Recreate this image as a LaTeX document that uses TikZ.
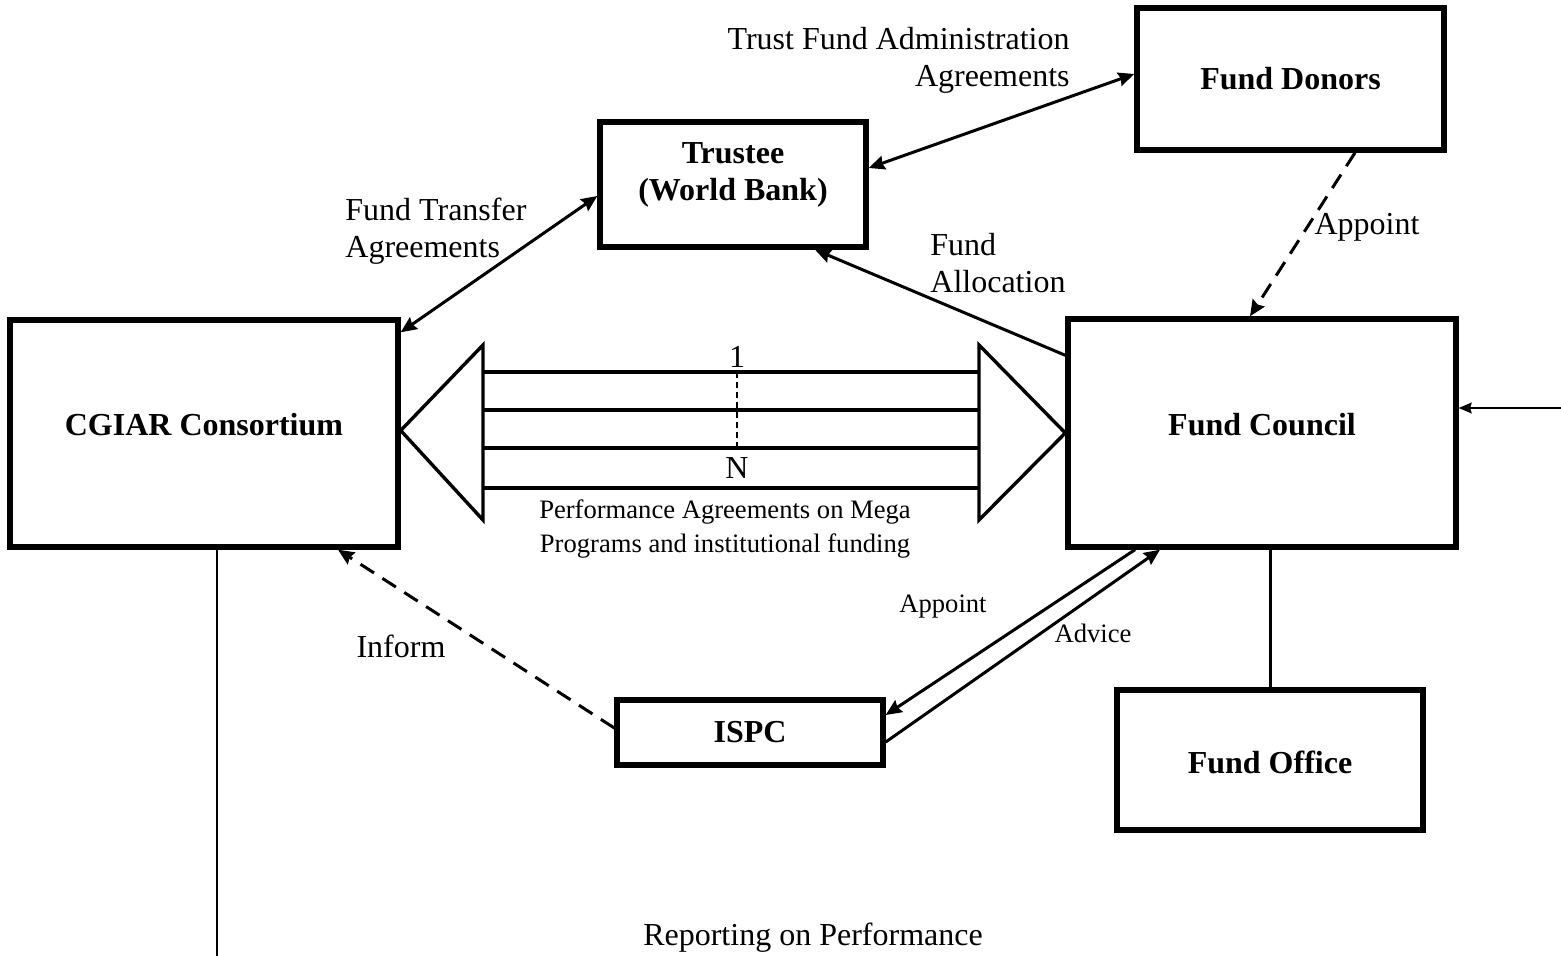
\documentclass[tikz,border=0pt]{standalone}
\usepackage{fontspec}
\setmainfont{Liberation Serif}
\usetikzlibrary{arrows.meta,calc}
\newcommand\figmain{\fontsize{16}{18.5}\selectfont}
\newcommand\figsmall{\fontsize{13.3}{17}\selectfont}
\begin{document}
\begin{tikzpicture}[x=0.5pt,y=-0.5pt,
  >={Stealth[length=8pt,width=7pt,inset=1pt]},
  box/.style={draw, line width=2.7pt, inner sep=0pt},
  title/.style={font=\figmain\bfseries, align=center, inner sep=0pt},
  lbl/.style={font=\figmain, align=center, inner sep=0pt},
  slbl/.style={font=\figsmall, align=center, inner sep=0pt},
  conn/.style={line width=1.5pt},
  dashln/.style={dash pattern=on 8pt off 5pt},
  bigarrow/.style={line width=1.7pt, line join=miter},
  thinln/.style={line width=0.8pt}
]
\useasboundingbox (0,0) rectangle (1561,956);

% boxes
\node[box, minimum width=153.5pt, minimum height=71pt,
  label={[title]center:Fund Donors}] (donors) at (1290.5,79) {};
\node[box, minimum width=133pt, minimum height=62.5pt,
  label={[title,yshift=5pt]center:Trustee\\(World Bank)}] (trustee) at (733,184.5) {};
\node[box, minimum width=194pt, minimum height=113.5pt,
  label={[title,yshift=4.25pt]center:CGIAR Consortium}] (cgiar) at (204,433.5) {};
\node[box, minimum width=194pt, minimum height=114pt,
  label={[title,yshift=4pt]center:Fund Council}] (council) at (1262,433) {};
\node[box, minimum width=133pt, minimum height=32.5pt,
  label={[title]center:ISPC}] (ispc) at (750,732.5) {};
\node[box, minimum width=153pt, minimum height=70pt,
  label={[title,yshift=-1pt]center:Fund Office}] (office) at (1270,760) {};

% connectors
\draw[conn,<->] ([yshift=8.25pt]trustee.east) -- ([yshift=2.5pt]donors.west);
\draw[conn,<->] ([yshift=-7.5pt]cgiar.north east) -- ([yshift=-5.75pt]trustee.west);
\draw[conn,->] ([yshift=-19.5pt]council.north west) -- ([xshift=41pt]trustee.south);
\draw[conn,dashln,->] ([xshift=32.25pt]donors.south) -- ([xshift=-6pt]council.north);
\draw[conn,->] ([xshift=-63.5pt]council.south) -- ([yshift=8.75pt]ispc.east);
\draw[conn,->] ([yshift=-4.75pt]ispc.east) -- ([xshift=-51pt]council.south);
\draw[conn,dashln,->] ([yshift=2.25pt]ispc.west) -- ([xshift=67pt]cgiar.south);
\draw[line width=1.5pt] (office.north) -- (office.north |- council.south);
\coordinate (rin) at (1561,408);
\draw[thinln,->,>={Stealth[length=6.5pt,width=5.5pt,inset=0.8pt]}] (rin) -- ([yshift=12.5pt]council.east);
\coordinate (cbot) at (217,956);
\draw[thinln] ([xshift=6.5pt]cgiar.south) -- (cbot);

% big double arrow
\draw[bigarrow] ([yshift=1.5pt]cgiar.east) -- (483,345) -- (483,520) -- cycle;
\draw[bigarrow] (council.west) -- (979,345) -- (979,520) -- cycle;
\foreach \yy in {372,410,448,488} \draw[bigarrow] (483,\yy) -- (979,\yy);
\draw[line width=0.7pt, dash pattern=on 3pt off 2pt] (737,372) -- (737,448);
\node[lbl] (one) at (737,357) {1};
\node[lbl] (nn) at (737,468) {N};
\node[slbl] (perf) at (725,529) {Performance Agreements on Mega\\Programs and institutional funding};

% labels
\node[lbl, align=right, anchor=east] (tfa) at (1070,60) {Trust Fund Administration\\Agreements};
\node[lbl, align=left, anchor=west] (fta) at (345,231) {Fund Transfer\\Agreements};
\node[lbl, align=left, anchor=west] (fal) at (930,263) {Fund\\Allocation};
\node[lbl] (app1) at (1367,227) {Appoint};
\node[slbl] (app2) at (943,607) {Appoint};
\node[slbl] (adv) at (1093,633) {Advice};
\node[lbl] (inf) at (401,646) {Inform};
\node[lbl] (rep) at (813,938) {Reporting on Performance};
\end{tikzpicture}
\end{document}
